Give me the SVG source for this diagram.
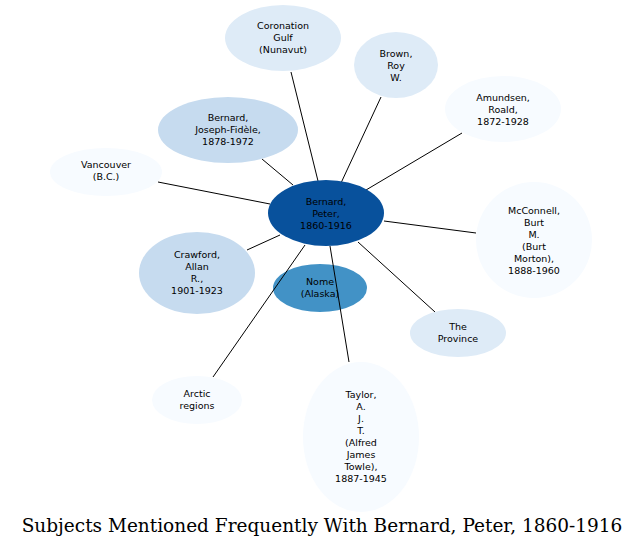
<svg xmlns="http://www.w3.org/2000/svg" width="644" height="548" viewBox="0 0 644 548">
<style>
text{font-family:"DejaVu Sans",sans-serif;font-size:9.5px;text-anchor:middle;fill:#000}
.e line{stroke:#000;stroke-width:1}
.t{font-family:"DejaVu Serif",serif;font-size:18.5px}
</style>
<rect width="644" height="548" fill="#fff"/>
<g id="nome"><ellipse cx="320" cy="288" rx="47" ry="24" fill="#4292c6"/></g>
<g class="e">
<line x1="291" y1="72" x2="318" y2="181"/>
<line x1="381" y1="97" x2="341" y2="183"/>
<line x1="462" y1="133" x2="366" y2="190"/>
<line x1="262" y1="159" x2="293" y2="185"/>
<line x1="158" y1="182" x2="270" y2="204"/>
<line x1="476" y1="233" x2="384" y2="221"/>
<line x1="247" y1="250" x2="280" y2="235"/>
<line x1="330" y1="246" x2="349" y2="362"/>
<line x1="305" y1="245" x2="213" y2="377"/>
<line x1="358" y1="242" x2="435" y2="312"/>
</g>
<text x="320" y="285">Nome</text><text x="320" y="297">(Alaska)</text>
<g id="coronation"><ellipse cx="283" cy="38" rx="58" ry="33" fill="#deebf7"/><text x="283" y="29">Coronation</text><text x="283" y="41">Gulf</text><text x="283" y="53">(Nunavut)</text></g>
<g id="brown"><ellipse cx="396" cy="65" rx="42" ry="33" fill="#deebf7"/><text x="396" y="57">Brown,</text><text x="396" y="69">Roy</text><text x="396" y="81">W.</text></g>
<g id="amundsen"><ellipse cx="503" cy="109" rx="58" ry="33" fill="#f7fbff"/><text x="503" y="101">Amundsen,</text><text x="503" y="113">Roald,</text><text x="503" y="125">1872-1928</text></g>
<g id="bernardjf"><ellipse cx="228" cy="130" rx="70" ry="33" fill="#c6dbef"/><text x="228" y="121">Bernard,</text><text x="228" y="133">Joseph-Fidèle,</text><text x="228" y="145">1878-1972</text></g>
<g id="vancouver"><ellipse cx="106" cy="172" rx="56" ry="24" fill="#f7fbff"/><text x="106" y="168">Vancouver</text><text x="106" y="180">(B.C.)</text></g>
<g id="mcconnell"><ellipse cx="534" cy="240" rx="58" ry="58" fill="#f7fbff"/><text x="534" y="214">McConnell,</text><text x="534" y="226">Burt</text><text x="534" y="238">M.</text><text x="534" y="250">(Burt</text><text x="534" y="262">Morton),</text><text x="534" y="274">1888-1960</text></g>
<g id="crawford"><ellipse cx="197" cy="273" rx="58" ry="41" fill="#c6dbef"/><text x="197" y="258">Crawford,</text><text x="197" y="270">Allan</text><text x="197" y="282">R.,</text><text x="197" y="294">1901-1923</text></g>
<g id="center"><ellipse cx="326" cy="213" rx="58" ry="33" fill="#08519c"/><text x="326" y="205">Bernard,</text><text x="326" y="217">Peter,</text><text x="326" y="229">1860-1916</text></g>
<g id="province"><ellipse cx="458" cy="333" rx="48" ry="24" fill="#deebf7"/><text x="458" y="330">The</text><text x="458" y="342">Province</text></g>
<g id="arctic"><ellipse cx="197" cy="400" rx="45" ry="24" fill="#f7fbff"/><text x="197" y="397">Arctic</text><text x="197" y="409">regions</text></g>
<g id="taylor"><ellipse cx="361" cy="437" rx="58" ry="75" fill="#f7fbff"/><text x="361" y="398">Taylor,</text><text x="361" y="410">A.</text><text x="361" y="422">J.</text><text x="361" y="434">T.</text><text x="361" y="446">(Alfred</text><text x="361" y="458">James</text><text x="361" y="470">Towle),</text><text x="361" y="482">1887-1945</text></g>
<text class="t" x="322" y="532">Subjects Mentioned Frequently With Bernard, Peter, 1860-1916</text>
</svg>
